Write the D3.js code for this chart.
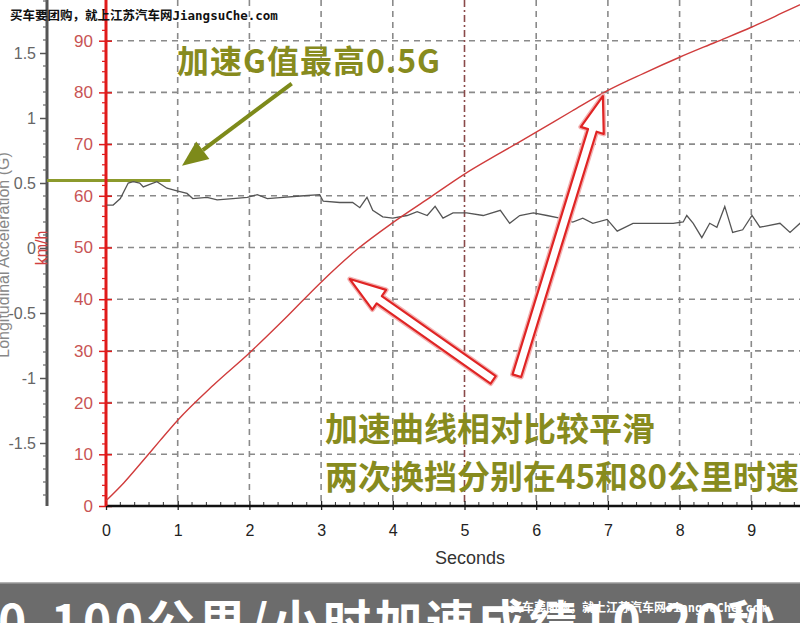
<!DOCTYPE html>
<html><head><meta charset="utf-8">
<script src="https://cdn.jsdelivr.net/npm/d3@7"></script>
<style>
html,body{margin:0;padding:0;background:#fff;overflow:hidden}
svg{display:block}
</style></head>
<body>
<script>
// ---- data ----
const speedTime = [0,0.25,0.5,0.75,1,1.5,2,2.5,3,3.5,4,4.5,5,5.5,6,6.5,7,7.5,8,8.5,9,9.5,10];
const speedKmh  = [1,4.5,8.5,12.6,16.6,23.4,29.6,36.3,43.3,49.6,54.8,59.5,64.2,68.3,72.3,76.4,80.4,83.7,86.8,89.7,92.6,95.8,99];

const accTime = [0.01,0.10,0.20,0.31,0.38,0.47,0.52,0.61,0.71,0.85,0.99,1.13,1.21,1.41,1.55,1.77,1.97,2.11,2.25,2.47,2.71,2.98,3.03,3.26,3.44,3.54,3.64,3.72,3.86,4.00,4.20,4.34,4.48,4.59,4.70,4.84,5.03,5.26,5.50,5.63,5.77,5.96,6.15,6.33,6.51,6.65,6.79,6.99,7.13,7.35,7.63,7.91,8.05,8.10,8.19,8.31,8.42,8.52,8.63,8.74,8.88,9.01,9.12,9.40,9.54,9.68,9.82];
const accG    = [0.33,0.33,0.38,0.50,0.51,0.50,0.47,0.49,0.51,0.46,0.44,0.42,0.38,0.39,0.37,0.38,0.39,0.41,0.38,0.39,0.40,0.41,0.36,0.35,0.35,0.31,0.39,0.29,0.24,0.23,0.25,0.28,0.25,0.32,0.23,0.27,0.27,0.25,0.29,0.19,0.25,0.27,0.25,0.23,0.20,0.23,0.19,0.22,0.13,0.19,0.19,0.19,0.20,0.25,0.19,0.08,0.19,0.16,0.32,0.12,0.14,0.25,0.16,0.19,0.12,0.19,0.18];

const xTicks = [0,1,2,3,4,5,6,7,8,9];
const speedTicks = [0,10,20,30,40,50,60,70,80,90];
const gTicks = [-1.5,-1,-0.5,0,0.5,1,1.5];

const peakG = 0.52;
const title1 = "加速G值最高0.5G";
const note1 = "加速曲线相对比较平滑";
const note2 = "两次换挡分别在45和80公里时速";
const banner = "0-100公里/小时加速成绩10.20秒";
const watermark = "买车要团购，就上江苏汽车网JiangsuChe.com";

// ---- layout ----
const W = 800, H = 623;
const svg = d3.select("body").append("svg").attr("width", W).attr("height", H);

const x = d3.scaleLinear().domain([0,10]).range([106, 823]);
const yS = d3.scaleLinear().domain([0,100]).range([506, -11]);
const yG = d3.scaleLinear().domain([-2,2]).range([508, -12]);

const olive = "#878b1e";
const redAxis = "#e01a1a";
const redText = "#c85454";

// grid
const grid = svg.append("g");
speedTicks.filter(d => d > 0).forEach(d => {
  grid.append("line").attr("x1", x(0)).attr("x2", W).attr("y1", yS(d)).attr("y2", yS(d))
    .attr("stroke", "#8a8a8a").attr("stroke-width", 1.6).attr("stroke-dasharray", "6,5");
});
d3.range(1, 11).forEach(d => {
  grid.append("line").attr("x1", x(d)).attr("x2", x(d)).attr("y1", 0).attr("y2", yS(0))
    .attr("stroke", d === 5 ? "#8a4a4a" : "#8a8a8a").attr("stroke-width", 1.6)
    .attr("stroke-dasharray", d === 5 ? "7,3,2,3" : "6,5");
});

// gray G axis (left)
const gAxis = svg.append("g").attr("transform", "translate(47,0)")
  .call(d3.axisLeft(yG).tickValues(gTicks).tickSize(7).tickFormat(d => String(d)));
gAxis.select(".domain").remove();
gAxis.selectAll("line").attr("stroke", "#555").attr("stroke-width", 1.5);
gAxis.selectAll("text").attr("fill", "#666").attr("font-family", "Liberation Sans, Arial, sans-serif")
  .attr("font-size", 16).attr("dx", -1);
gAxis.append("line").attr("x1", 0).attr("x2", 0).attr("y1", 0).attr("y2", 506)
  .attr("stroke", "#555").attr("stroke-width", 3);
const gMinor = d3.range(-19, 20).map(d => d / 10).filter(d => Math.abs(d * 2 - Math.round(d * 2)) > 1e-6);
gMinor.forEach(d => {
  if (yG(d) > 0 && yG(d) < 506)
    gAxis.append("line").attr("x1", -4).attr("x2", 0).attr("y1", yG(d)).attr("y2", yG(d))
      .attr("stroke", "#666").attr("stroke-width", 1.2);
});

// peak G line
svg.append("line").attr("x1", 47).attr("x2", x(0.9)).attr("y1", yG(peakG)).attr("y2", yG(peakG))
  .attr("stroke", "#8c9a2c").attr("stroke-width", 3);

// red speed axis
const sAxis = svg.append("g").attr("transform", `translate(${x(0)},0)`)
  .call(d3.axisLeft(yS).tickValues(speedTicks).tickSize(8));
sAxis.select(".domain").remove();
sAxis.selectAll("line").attr("stroke", redAxis).attr("stroke-width", 1.5).attr("x2", 6).attr("x1", -7);
sAxis.selectAll("text").attr("fill", redText).attr("font-family", "Liberation Sans, Arial, sans-serif")
  .attr("font-size", 17).attr("x", -13);
d3.range(2, 100, 2).filter(d => d % 10 !== 0).forEach(d => {
  sAxis.append("line").attr("x1", -4).attr("x2", 0).attr("y1", yS(d)).attr("y2", yS(d))
    .attr("stroke", redAxis).attr("stroke-width", 1.2);
});

// x axis
const xAxis = svg.append("g").attr("transform", `translate(0,${yS(0)})`)
  .call(d3.axisBottom(x).tickValues(xTicks).tickSize(6).tickFormat(d3.format("d")));
xAxis.select(".domain").remove();
xAxis.selectAll("line").attr("stroke", "#222").attr("stroke-width", 1.3).attr("y1", -5).attr("y2", 4);
xAxis.selectAll("text").attr("fill", "#222").attr("font-family", "Liberation Sans, Arial, sans-serif")
  .attr("font-size", 16).attr("y", 19);
d3.range(0, 10.01, 0.2).forEach(d => {
  if (Math.abs(d - Math.round(d)) > 1e-6)
    xAxis.append("line").attr("x1", x(d)).attr("x2", x(d)).attr("y1", -4).attr("y2", 0)
      .attr("stroke", "#333").attr("stroke-width", 1);
});
svg.append("line").attr("x1", x(0)).attr("x2", W).attr("y1", yS(0)).attr("y2", yS(0))
  .attr("stroke", "#111").attr("stroke-width", 2.5);
svg.append("line").attr("x1", x(0)).attr("x2", x(0)).attr("y1", 0).attr("y2", yS(0))
  .attr("stroke", redAxis).attr("stroke-width", 3);

// axis titles
svg.append("text").attr("x", 470).attr("y", 564).attr("text-anchor", "middle")
  .attr("font-family", "Liberation Sans, Arial, sans-serif").attr("font-size", 18).attr("fill", "#333").text("Seconds");
svg.append("text").attr("transform", "translate(47,248) rotate(-90)").attr("text-anchor", "middle")
  .attr("font-family", "Liberation Sans, Arial, sans-serif").attr("font-size", 16).attr("fill", "#d04040").text("km/h");
svg.append("text").attr("transform", "translate(9,255) rotate(-90)").attr("text-anchor", "middle")
  .attr("font-family", "Liberation Sans, Arial, sans-serif").attr("font-size", 16).attr("fill", "#888")
  .text("Longitudinal Acceleration (G)");

// acceleration line
const accData = accTime.map((t, i) => [t, accG[i]]);
svg.append("path").datum(accData)
  .attr("d", d3.line().x(d => x(d[0])).y(d => yG(d[1])))
  .attr("fill", "none").attr("stroke", "#555").attr("stroke-width", 1.3);

// speed line
const spData = speedTime.map((t, i) => [t, speedKmh[i]]);
svg.append("path").datum(spData)
  .attr("d", d3.line().curve(d3.curveMonotoneX).x(d => x(d[0])).y(d => yS(d[1])))
  .attr("fill", "none").attr("stroke", "#d03c3c").attr("stroke-width", 1.4);

// annotations
function arrowPts(x1, y1, x2, y2, w, hw, hl) {
  const dx = x2 - x1, dy = y2 - y1, L = Math.hypot(dx, dy);
  const ux = dx / L, uy = dy / L, nx = -uy, ny = ux;
  const bx = x2 - ux * hl, by = y2 - uy * hl;
  return [[x1 + nx * w, y1 + ny * w], [bx + nx * w, by + ny * w], [bx + nx * hw, by + ny * hw], [x2, y2],
          [bx - nx * hw, by - ny * hw], [bx - nx * w, by - ny * w], [x1 - nx * w, y1 - ny * w]];
}
const redArrows = [
  { from: [5.40, 24.4], to: [3.40, 43.9] },
  { from: [5.73, 25.2], to: [6.93, 79.3] }
];
redArrows.forEach(a => {
  const p = arrowPts(x(a.from[0]), yS(a.from[1]), x(a.to[0]), yS(a.to[1]), 4.5, 12, 36);
  svg.append("polygon").attr("points", p.map(q => q.join(",")).join(" "))
    .attr("fill", "#fff").attr("stroke", "#f3b3b3").attr("stroke-width", 5).attr("stroke-linejoin", "round");
  svg.append("polygon").attr("points", p.map(q => q.join(",")).join(" "))
    .attr("fill", "#fff").attr("stroke", "#e02424").attr("stroke-width", 2.2).attr("stroke-linejoin", "round");
});

// olive arrow
const oa = { from: [2.59, 81.7], to: [1.06, 65.8] };
{
  const x1 = x(oa.from[0]), y1 = yS(oa.from[1]), x2 = x(oa.to[0]), y2 = yS(oa.to[1]);
  const dx = x2 - x1, dy = y2 - y1, L = Math.hypot(dx, dy), ux = dx / L, uy = dy / L;
  const bx = x2 - ux * 26, by = y2 - uy * 26;
  svg.append("line").attr("x1", x1).attr("y1", y1).attr("x2", bx).attr("y2", by)
    .attr("stroke", "#7d8a1a").attr("stroke-width", 4);
  const nx = -uy, ny = ux;
  svg.append("polygon").attr("points", [[x2, y2], [bx + nx * 11, by + ny * 11], [bx - nx * 11, by - ny * 11]].map(q => q.join(",")).join(" "))
    .attr("fill", "#7d8a1a");
}

const cjk = "'Noto Sans CJK SC', 'Noto Sans', sans-serif";
svg.append("text").attr("x", 177).attr("y", 73).attr("font-family", cjk).attr("font-weight", "bold")
  .attr("font-size", 32).attr("letter-spacing", 1).attr("fill", olive).text(title1);
svg.append("text").attr("x", 325).attr("y", 441).attr("font-family", cjk).attr("font-weight", "bold")
  .attr("font-size", 33).attr("fill", olive).text(note1);
svg.append("text").attr("x", 325).attr("y", 489).attr("font-family", cjk).attr("font-weight", "bold")
  .attr("font-size", 33).attr("fill", olive).text(note2);

// watermark top
const wmFont = "'DejaVu Sans Mono', 'Noto Sans CJK SC', monospace";
svg.append("text").attr("x", 10).attr("y", 20).attr("font-family", wmFont)
  .attr("font-weight", "bold").attr("font-size", 12.5).attr("fill", "#111").text(watermark);

// banner
svg.append("rect").attr("x", 0).attr("y", 583).attr("width", W).attr("height", 40).attr("fill", "#6c6c6c");
svg.append("line").attr("x1", 0).attr("x2", W).attr("y1", 583).attr("y2", 583).attr("stroke", "#9a9a9a").attr("stroke-width", 1.5);
svg.append("text").attr("x", -2).attr("y", 640).attr("font-family", cjk).attr("font-weight", "bold")
  .attr("font-size", 48).attr("letter-spacing", 3.5).attr("fill", "#fff").text(banner);
svg.append("text").attr("x", 510).attr("y", 612).attr("font-family", wmFont)
  .attr("font-weight", "bold").attr("font-size", 12).attr("fill", "#fff").text(watermark);
</script>
</body></html>
